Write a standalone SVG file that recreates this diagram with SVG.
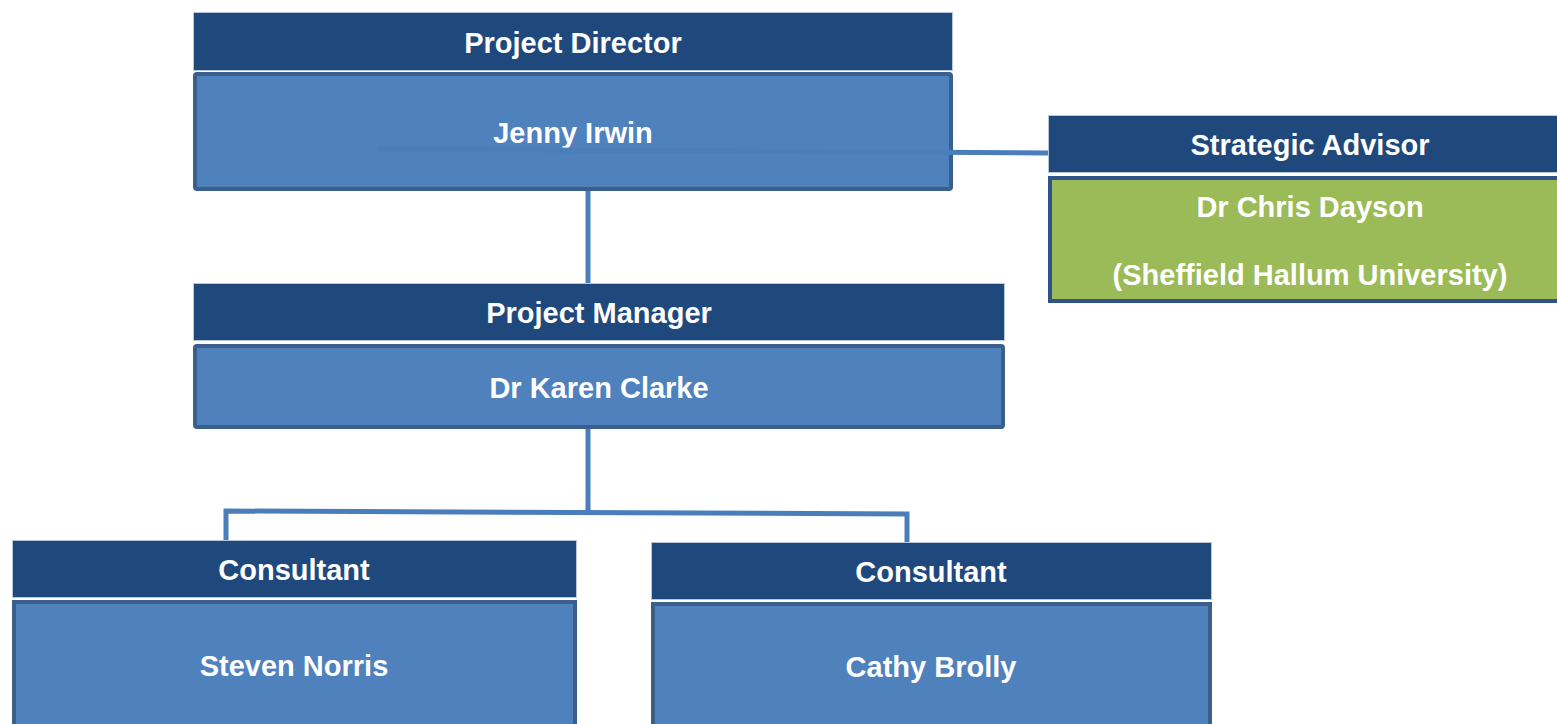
<svg xmlns="http://www.w3.org/2000/svg" width="1557" height="724" viewBox="0 0 1557 724">
  <style>
    .hdr { fill: #1f497d; stroke: #b8c7d9; stroke-width: 1; }
    .body { fill: #4f81bd; stroke: #3a5f8c; stroke-width: 4; }
    .green { fill: #9bbb59; stroke: #2e5488; stroke-width: 4; }
    .t { font-family: "Liberation Sans", Arial, sans-serif; font-weight: bold; font-size: 29px; fill: #ffffff; text-anchor: middle; }
    .c { fill: none; stroke: #4a7ebb; stroke-width: 5; }
  </style>
  <rect width="1557" height="724" fill="#ffffff"/>

  <g id="director">
    <rect class="hdr" x="193.5" y="12.5" width="759" height="58"/>
    <rect class="body" x="195" y="74" width="756" height="115" rx="2"/>
    <text class="t" x="573" y="53">Project Director</text>
    <text class="t" x="573" y="143">Jenny Irwin</text>
  </g>

  <g id="advisor">
    <rect class="hdr" x="1048.5" y="115.5" width="520" height="57"/>
    <rect class="green" x="1050" y="178" width="520" height="123"/>
    <text class="t" x="1310" y="155">Strategic Advisor</text>
    <text class="t" x="1310" y="217">Dr Chris Dayson</text>
    <text class="t" x="1310" y="285">(Sheffield Hallum University)</text>
  </g>

  <g id="manager">
    <rect class="hdr" x="193.5" y="283.5" width="811" height="57"/>
    <rect class="body" x="195" y="346" width="808" height="81" rx="2"/>
    <text class="t" x="599" y="323">Project Manager</text>
    <text class="t" x="599" y="398">Dr Karen Clarke</text>
  </g>

  <g id="consultant1">
    <rect class="hdr" x="12.5" y="540.5" width="564" height="57"/>
    <rect class="body" x="14" y="602" width="561" height="130"/>
    <text class="t" x="294" y="580">Consultant</text>
    <text class="t" x="294" y="676">Steven Norris</text>
  </g>

  <g id="consultant2">
    <rect class="hdr" x="651.5" y="542.5" width="560" height="57"/>
    <rect class="body" x="653" y="604" width="557" height="130"/>
    <text class="t" x="931" y="582">Consultant</text>
    <text class="t" x="931" y="677">Cathy Brolly</text>
  </g>

  <g id="connectors">
    <path class="c" d="M377 149 L1048 153"/>
    <path class="c" d="M588 191 L588 283"/>
    <path class="c" d="M588 429 L588 511"/>
    <path class="c" d="M226 540 L226 511 L907 514 L907 542"/>
  </g>
</svg>
